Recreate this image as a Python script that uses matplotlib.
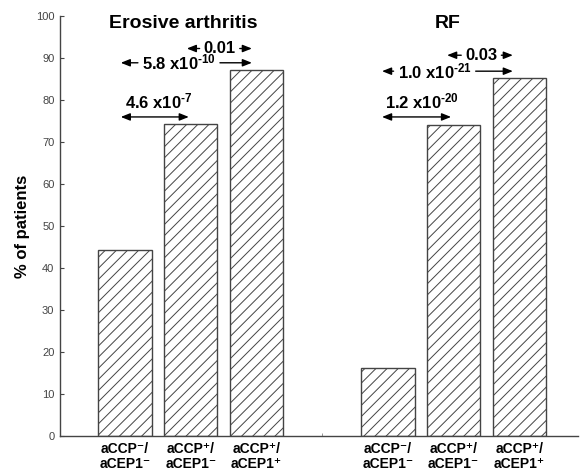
import matplotlib
matplotlib.use("Agg")
import matplotlib.pyplot as plt

plt.rcParams['font.family'] = ['Liberation Sans', 'DejaVu Sans']
plt.rcParams['mathtext.fontset'] = 'custom'
plt.rcParams['mathtext.bf'] = 'Liberation Sans:bold'
plt.rcParams['mathtext.rm'] = 'Liberation Sans:bold'
plt.rcParams['mathtext.default'] = 'bf'
plt.rcParams['hatch.linewidth'] = 0.7
plt.rcParams['hatch.color'] = '#555555'

# ---- data ----
groups = ["Erosive arthritis", "RF"]
positions = [0, 1, 2, 4, 5, 6]
values = [44.4, 74.4, 87.1, 16.1, 74.0, 85.3]
ticklabels = ["aCCP\u207b/\naCEP1\u207b", "aCCP\u207a/\naCEP1\u207b", "aCCP\u207a/\naCEP1\u207a"] * 2
title_x = [0.89, 4.91]

# p-value arrows: (label, x_start, x_end, y_line, x_text, y_text, text_above)
pvals = [
    ("0.01",                    0.94, 1.93, 92.3, 1.44, 92.3, False),
    ("5.8 x10$^{\u201010}$",   -0.065, 1.93, 88.9, 0.82, 88.9, False),
    ("4.6 x10$^{\u20107}$",    -0.065, 0.97, 76.0, 0.51, 79.6, True),
    ("0.03",                    4.90, 5.90, 90.7, 5.42, 90.7, False),
    ("1.0 x10$^{\u201021}$",    3.91, 5.90, 86.9, 4.71, 86.9, False),
    ("1.2 x10$^{\u201020}$",    3.91, 4.96, 76.0, 4.52, 79.6, True),
]

fig = plt.figure(figsize=(5.8, 4.76), dpi=100)
ax = fig.add_axes([0.1034, 0.084, 0.893, 0.882])

ax.bar(positions, values, width=0.81, color='white', edgecolor='#444444',
       linewidth=1.0, hatch='///')

ax.set_xlim(-0.99, 6.89)
ax.set_ylim(0, 100)
ax.set_yticks(range(0, 101, 10))
ax.tick_params(axis='y', direction='in', length=3, width=0.8, labelsize=8,
               labelcolor='#444444', color='#444444', pad=4)
ax.set_xticks(positions)
ax.set_xticklabels(ticklabels, fontsize=10, fontweight='bold', linespacing=1.15)
ax.tick_params(axis='x', length=0, pad=4)
ax.set_xticks([3], minor=True)
ax.tick_params(axis='x', which='minor', direction='in', length=2, color='#888888')

for s in ['top', 'right']:
    ax.spines[s].set_visible(False)
for s in ['left', 'bottom']:
    ax.spines[s].set_color('#444444')
    ax.spines[s].set_linewidth(1.0)

ax.set_ylabel("% of patients", fontsize=12, fontweight='bold', labelpad=4)

for g, tx in zip(groups, title_x):
    ax.text(tx, 98.3, g, ha='center', va='center', fontsize=14, fontweight='bold')

renderer = fig.canvas.get_renderer()
head = 'head_length=0.55,head_width=0.22'
gap = 4  # pixels between text and line

for lab, x0, x1, yl, xt, yt, above in pvals:
    t = ax.text(xt, yt, lab, ha='center', va='center', fontsize=12, fontweight='bold')
    if above:
        ax.annotate('', xy=(x1, yl), xytext=(x0, yl),
                    arrowprops=dict(arrowstyle='<|-|>,' + head, color='black',
                                    lw=1.0, shrinkA=0, shrinkB=0))
    else:
        bb = t.get_window_extent(renderer)
        inv = ax.transData.inverted()
        left = inv.transform((bb.x0 - gap, 0))[0]
        right = inv.transform((bb.x1 + gap, 0))[0]
        ax.annotate('', xy=(x0, yl), xytext=(left, yl),
                    arrowprops=dict(arrowstyle='-|>,' + head, color='black',
                                    lw=1.0, shrinkA=0, shrinkB=0))
        ax.annotate('', xy=(x1, yl), xytext=(right, yl),
                    arrowprops=dict(arrowstyle='-|>,' + head, color='black',
                                    lw=1.0, shrinkA=0, shrinkB=0))

fig.savefig('out.png', dpi=100)
